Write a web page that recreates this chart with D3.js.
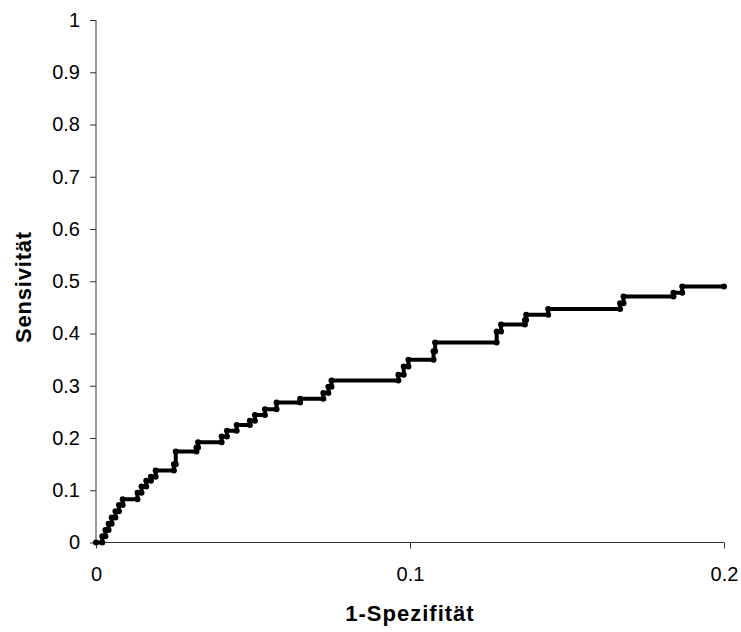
<!DOCTYPE html>
<html>
<head>
<meta charset="utf-8">
<script src="https://cdn.jsdelivr.net/npm/d3@7/dist/d3.min.js"></script>
<style>
  html, body { margin: 0; padding: 0; background: #fff; }
  svg { display: block; }
  text { font-family: "Liberation Sans", Arial, sans-serif; fill: #000; }
</style>
</head>
<body>
<svg id="chart" width="741" height="632"></svg>
<script>
// ROC curve: false positive rate (1-Spezifität) vs. true positive rate (Sensivität)
const fpr = [
  0, 0.002, 0.002, 0.003, 0.003, 0.004, 0.004, 0.005, 0.005, 0.0062, 0.0062, 0.0073, 0.0073, 0.0085, 0.0085,
  0.0132, 0.0132, 0.0145, 0.0145, 0.016, 0.016, 0.0175, 0.0175, 0.019, 0.019,
  0.0248, 0.0248, 0.0254, 0.0254, 0.032, 0.032, 0.0325, 0.0325,
  0.040, 0.040, 0.0417, 0.0417, 0.0448, 0.0448, 0.049, 0.049, 0.0506, 0.0506, 0.0538, 0.0538,
  0.0575, 0.0575, 0.065, 0.065, 0.0724, 0.0724, 0.074, 0.074, 0.075, 0.075,
  0.0963, 0.0963, 0.098, 0.098, 0.0995, 0.0995, 0.1075, 0.1075, 0.108, 0.108,
  0.1276, 0.1276, 0.129, 0.129, 0.1366, 0.1366, 0.137, 0.137, 0.144, 0.144,
  0.1669, 0.1669, 0.168, 0.168, 0.1839, 0.1839, 0.1867, 0.1867, 0.2
];
const tpr = [
  0, 0, 0.012, 0.012, 0.024, 0.024, 0.036, 0.036, 0.048, 0.048, 0.060, 0.060, 0.072, 0.072, 0.083,
  0.083, 0.095, 0.095, 0.107, 0.107, 0.118, 0.118, 0.126, 0.126, 0.138,
  0.138, 0.150, 0.150, 0.174, 0.174, 0.182, 0.182, 0.192,
  0.192, 0.203, 0.203, 0.214, 0.214, 0.225, 0.225, 0.233, 0.233, 0.244, 0.244, 0.255,
  0.255, 0.268, 0.268, 0.275, 0.275, 0.286, 0.286, 0.298, 0.298, 0.310,
  0.310, 0.321, 0.321, 0.337, 0.337, 0.350, 0.350, 0.366, 0.366, 0.383,
  0.383, 0.404, 0.404, 0.417, 0.417, 0.426, 0.426, 0.436, 0.436, 0.447,
  0.447, 0.458, 0.458, 0.471, 0.471, 0.478, 0.478, 0.490, 0.490
];
const xTicks = [0, 0.1, 0.2];
const yTicks = [0, 0.1, 0.2, 0.3, 0.4, 0.5, 0.6, 0.7, 0.8, 0.9, 1];
const xTitle = "1-Spezifität";
const yTitle = "Sensivität";

const svg = d3.select("#chart");
const plotLeft = 96, plotRight = 724, plotTop = 20, plotBottom = 542.5;

const x = d3.scaleLinear().domain([0, 0.2]).range([plotLeft, plotRight]);
const y = d3.scaleLinear().domain([0, 1]).range([plotBottom, plotTop]);

const fmt = d => d === 0 ? "0" : d === 1 ? "1" : String(+d.toFixed(1));

// y axis
const gy = svg.append("g")
  .attr("transform", `translate(${plotLeft},0)`)
  .call(d3.axisLeft(y).tickValues(yTicks).tickFormat(fmt).tickSize(6).tickPadding(10));
// x axis
const gx = svg.append("g")
  .attr("transform", `translate(0,${plotBottom})`)
  .call(d3.axisBottom(x).tickValues(xTicks).tickFormat(fmt).tickSize(6).tickPadding(18));

[gx, gy].forEach(g => {
  g.select(".domain").attr("stroke", "#333").attr("stroke-width", 1);
  g.selectAll(".tick line").attr("stroke", "#333");
  g.selectAll(".tick text")
    .style("font-family", '"Liberation Sans", Arial, sans-serif')
    .style("font-size", "20px")
    .attr("fill", "#000");
});
gx.select(".domain").attr("d", `M${plotLeft},0H${plotRight}`);
gy.select(".domain").attr("d", `M0,${plotTop}V${plotBottom}`);

// curve
const pts = fpr.map((f, i) => [f, tpr[i]]);
svg.append("path")
  .datum(pts)
  .attr("fill", "none")
  .attr("stroke", "#000")
  .attr("stroke-width", 4)
  .attr("stroke-linejoin", "miter")
  .attr("d", d3.line().x(d => x(d[0])).y(d => y(d[1])));

svg.append("g").selectAll("circle")
  .data(pts)
  .join("circle")
  .attr("cx", d => x(d[0]))
  .attr("cy", d => y(d[1]))
  .attr("r", 3)
  .attr("fill", "#000");

// axis titles
svg.append("text")
  .attr("x", (plotLeft + plotRight) / 2)
  .attr("y", 621)
  .attr("text-anchor", "middle")
  .style("font-size", "22px")
  .style("font-weight", "bold")
  .style("letter-spacing", "1px")
  .text(xTitle);

svg.append("text")
  .attr("transform", `translate(31,287) rotate(-90)`)
  .attr("text-anchor", "middle")
  .style("font-size", "22px")
  .style("font-weight", "bold")
  .style("letter-spacing", "0.8px")
  .text(yTitle);
</script>
</body>
</html>
